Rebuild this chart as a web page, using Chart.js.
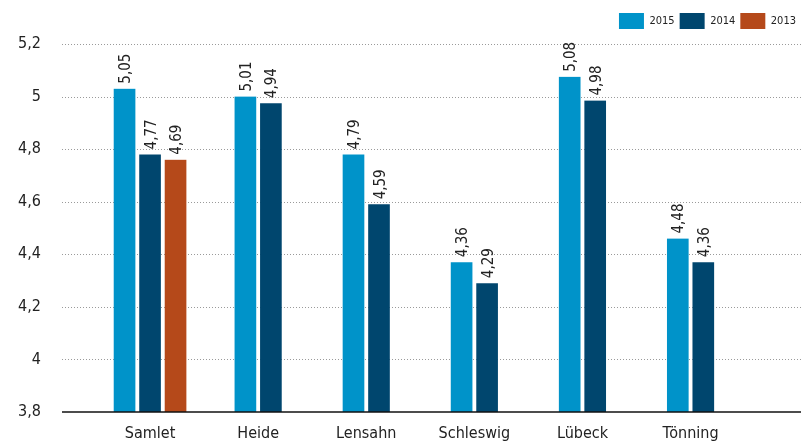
<!DOCTYPE html>
<html>
<head>
<meta charset="utf-8">
<script src="https://cdn.jsdelivr.net/npm/chart.js@4"></script>
<style>
  html, body { margin: 0; padding: 0; background: #fff; }
  #wrap { width: 801px; height: 441px; }
</style>
</head>
<body>
<div id="wrap"><canvas id="chart" width="801" height="441"></canvas></div>
<script>
// data
const categories = ['Samlet', 'Heide', 'Lensahn', 'Schleswig', 'Lübeck', 'Tönning'];
const years = ['2015', '2014', '2013'];
const values2015 = [5.03, 5.00, 4.78, 4.37, 5.075, 4.46];
const values2014 = [4.78, 4.975, 4.59, 4.29, 4.985, 4.37];
const values2013 = [4.76, null, null, null, null, null];
const labels2015 = ['5,05', '5,01', '4,79', '4,36', '5,08', '4,48'];
const labels2014 = ['4,77', '4,94', '4,59', '4,29', '4,98', '4,36'];
const labels2013 = ['4,69', null, null, null, null, null];
const yTicks = [3.8, 4, 4.2, 4.4, 4.6, 4.8, 5, 5.2];

const colors = ['#0093c9', '#00466e', '#b5491a'];
const FONT = "'Liberation Sans Narrow', 'DejaVu Sans Condensed', 'Roboto', sans-serif";
const valueLabels = [labels2015, labels2014, labels2013];

// dotted grid + base line across the full width
const gridPlugin = {
    id: 'gridLines',
    afterLayout(chart) {
        // legend sits a little higher than the layout puts it
        chart.legend.top -= 5;
        chart.legend.bottom -= 5;
    },
    beforeDatasetsDraw(chart) {
        const y = chart.scales.y;
        const ctx = chart.ctx;
        ctx.save();
        ctx.strokeStyle = '#9a9a9a';
        ctx.lineWidth = 1;
        ctx.setLineDash([1, 2]);
        yTicks.forEach(function (t) {
            if (t === 3.8) return;
            const py = Math.round(y.getPixelForValue(t)) + 0.5;
            ctx.beginPath();
            ctx.moveTo(62, py);
            ctx.lineTo(801, py);
            ctx.stroke();
        });
        ctx.restore();
    },
    afterDatasetsDraw(chart) {
        const y = chart.scales.y;
        const ctx = chart.ctx;
        ctx.save();
        ctx.strokeStyle = '#111';
        ctx.lineWidth = 1.5;
        const py = y.getPixelForValue(3.8);
        ctx.beginPath();
        ctx.moveTo(62, py);
        ctx.lineTo(801, py);
        ctx.stroke();

        // rotated value labels above bars
        ctx.fillStyle = '#222';
        ctx.font = '15px ' + FONT;
        ctx.textAlign = 'left';
        ctx.textBaseline = 'alphabetic';
        chart.data.datasets.forEach(function (ds, di) {
            const meta = chart.getDatasetMeta(di);
            meta.data.forEach(function (bar, i) {
                const txt = valueLabels[di][i];
                if (ds.data[i] == null || !txt) return;
                ctx.save();
                ctx.translate(bar.x + 5.5, bar.y - 5);
                ctx.rotate(-Math.PI / 2);
                ctx.fillText(txt, 0, 0);
                ctx.restore();
            });
        });
        ctx.restore();
    }
};

const datasets = [values2015, values2014, values2013].map(function (vals, i) {
    return {
        label: years[i],
        data: vals,
        backgroundColor: colors[i],
        borderColor: 'rgba(0,0,0,0)',
        borderWidth: { left: 2.25, right: 2.25, top: 0, bottom: 0 },
        borderSkipped: false,
        barThickness: 25.5,
        skipNull: true
    };
});

new Chart(document.getElementById('chart').getContext('2d'), {
    type: 'bar',
    data: { labels: categories, datasets: datasets },
    options: {
        responsive: false,
        animation: false,
        layout: { padding: { top: 5, right: 0, left: 0, bottom: 0 } },
        plugins: {
            tooltip: { enabled: false },
            legend: {
                position: 'top',
                align: 'end',
                labels: {
                    boxWidth: 25,
                    boxHeight: 16,
                    padding: 5,
                    color: '#222',
                    font: { size: 11, family: FONT }
                }
            }
        },
        scales: {
            x: {
                grid: { display: false, drawTicks: false },
                border: { display: false },
                ticks: {
                    color: '#222',
                    padding: 12,
                    maxRotation: 0,
                    font: { size: 16, family: FONT }
                },
                afterFit: function (scale) { scale.height = 29; }
            },
            y: {
                min: 3.8,
                max: 5.2,
                grid: { display: false, drawTicks: false },
                border: { display: false },
                afterBuildTicks: function (scale) {
                    scale.ticks = yTicks.map(function (v) { return { value: v }; });
                },
                ticks: {
                    color: '#222',
                    padding: 55,
                    font: { size: 16, family: FONT },
                    callback: function (v) {
                        return String(Number(v.toFixed(1))).replace('.', ',');
                    }
                },
                afterFit: function (scale) {
                    scale.width = 96;
                    scale.paddingTop = 44;
                    scale.paddingBottom = 0;
                }
            },
            yRight: {
                position: 'right',
                display: true,
                grid: { display: false, drawTicks: false },
                border: { display: false },
                ticks: { display: false },
                afterFit: function (scale) {
                    scale.width = 56.4;
                    scale.paddingTop = 0;
                    scale.paddingBottom = 0;
                }
            }
        }
    },
    plugins: [gridPlugin]
});
</script>
</body>
</html>
